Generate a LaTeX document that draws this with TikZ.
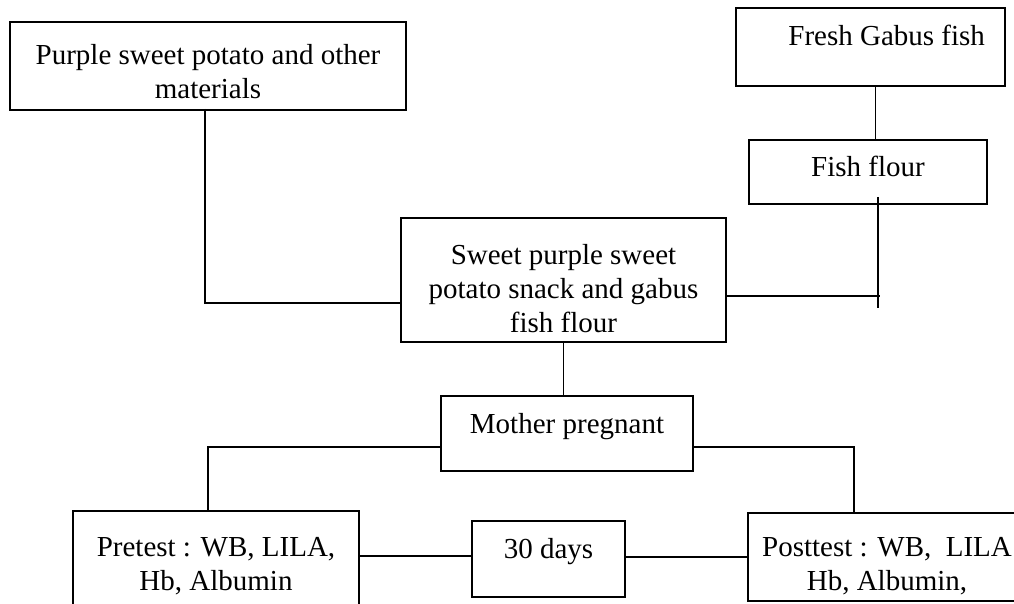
\documentclass[tikz,border=0pt]{standalone}
\usepackage{fontspec}
\setmainfont{Liberation Serif}
\usetikzlibrary{positioning}

\newcommand{\toppad}[1]{\rule{0pt}{#1}}

\tikzset{
  box/.style={draw, line width=1.8pt, align=center, inner sep=0pt,
    font=\fontsize{29}{34}\selectfont},
  link/.style={line width=1.8pt}
}

\begin{document}
\begin{tikzpicture}[x=1pt,y=-1pt]
  \useasboundingbox (0,0) rectangle (1014,604);
  \clip (0,0) rectangle (1014,604);
  % boxes
  \node[box, minimum width=396pt, minimum height=88pt] (raw) at (208,66)
    {\toppad{31pt}Purple sweet potato and other\\materials};
  \node[box, text width=229pt, inner xsep=20pt, align=flush right,
    text height=38pt, text depth=40pt] (fresh) at (870.5,47) {Fresh Gabus fish};
  \node[box, minimum width=238pt, text height=37pt, text depth=27pt] (flour) at (868,172) {Fish flour};
  \node[box, minimum width=325pt, minimum height=124pt] (snack) at (563.5,280)
    {\toppad{37pt}Sweet purple sweet\\potato snack and gabus\\fish flour};
  \node[box, minimum width=252pt, text height=37pt, text depth=38pt] (mother) at (567,433.5) {Mother pregnant};
  \node[box, minimum width=286pt, minimum height=98pt] (pre) at (216,560)
    {\toppad{31pt}Pretest : WB, LILA,\\Hb, Albumin};
  \node[box, minimum width=153pt, text height=37pt, text depth=39pt] (days) at (548.5,559) {30 days};
  \node[box, minimum width=278pt, minimum height=88pt] (post) at (887,557)
    {\toppad{38pt}Posttest : WB,\ \ LILA\\Hb, Albumin,};
  % bends
  \coordinate (rawbend) at (205,303);
  \coordinate (flourjoin) at (878,296);
  \coordinate (preleft) at (208,447);
  \coordinate (postright) at (854,447);
  % connectors
  \draw[link] ([yshift=2pt]raw.south -| rawbend) -- (rawbend) -- (rawbend -| snack.west);
  \draw[link] ([xshift=5pt]fresh.south) -- ([xshift=5pt]fresh.south |- flour.north);
  \draw[link] ([yshift=8pt]flour.south -| flourjoin) -- ([yshift=-12pt]flourjoin);
  \draw[link] (snack.east |- flourjoin) -- ([xshift=2pt]flourjoin);
  \draw[link] (snack.south) -- (snack.south |- mother.north);
  \draw[link] (mother.west |- preleft) -- (preleft) -- (preleft |- pre.north);
  \draw[link] (mother.east |- postright) -- (postright) -- (postright |- post.north);
  \draw[link] ([yshift=3pt]days.west -| pre.east) -- ([yshift=3pt]days.west);
  \draw[link] ([yshift=2pt]days.east) -- ([yshift=2pt]days.east -| post.west);
\end{tikzpicture}
\end{document}
